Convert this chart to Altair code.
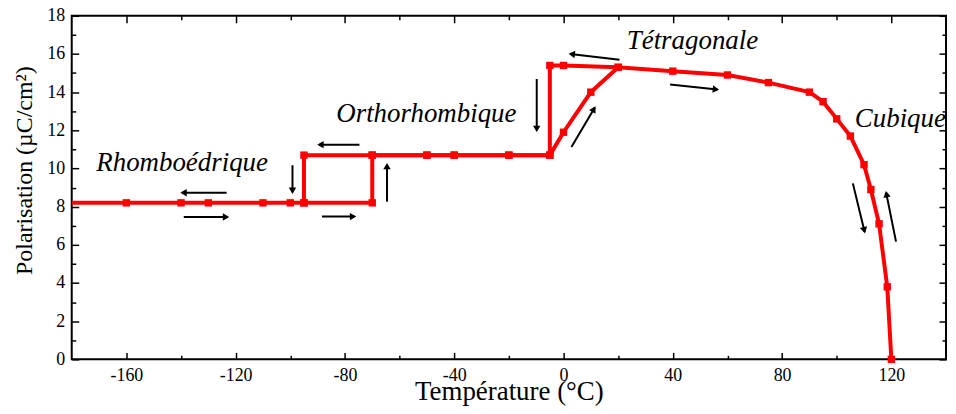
import math
import altair as alt
import pandas as pd

# ---------------- data ----------------
heat_T = [-180, -160, -140, -130, -110, -100, -95, -70, -70, -50, -40, -20, -5,
          0, 10, 20, 40, 60, 75, 90, 95, 100, 105, 110, 112.5, 115.5, 118.5, 120]
heat_P = [8.2, 8.2, 8.2, 8.2, 8.2, 8.2, 8.2, 8.2, 10.7, 10.7, 10.7, 10.7, 10.7,
          11.9, 14.0, 15.3, 15.1, 14.9, 14.5, 14.0, 13.5, 12.6, 11.7, 10.2, 8.9, 7.1, 3.8, 0.0]
cool_T = [20, 0, -5, -5, -20, -40, -50, -70, -95, -95]
cool_P = [15.3, 15.4, 15.4, 10.7, 10.7, 10.7, 10.7, 10.7, 10.7, 8.2]

label_text = ["Rhomboédrique", "Orthorhombique", "Tétragonale", "Cubique"]
label_T = [-139.6, -50.2, 47.2, 123.3]
label_P = [9.88, 12.43, 16.26, 12.17]

# arrows: tail (T1,P1) -> head (T2,P2)
arrow_T1 = [-123.3, -139.0, -99.2, -74.7, -88.4, -64.6, -9.8, 20.5, 2.9, 39.0, 105.9, 121.7]
arrow_P1 = [8.73, 7.46, 10.17, 11.25, 7.48, 8.26, 14.69, 15.70, 11.13, 14.40, 9.22, 6.17]
arrow_T2 = [-139.6, -123.0, -99.2, -89.5, -76.5, -64.6, -9.8, 2.5, 11.4, 56.3, 110.2, 118.1]
arrow_P2 = [8.73, 7.46, 8.76, 11.25, 7.48, 10.20, 12.0, 16.0, 13.18, 14.14, 6.69, 8.73]

x_major = [-160, -120, -80, -40, 0, 40, 80, 120]
x_minor = [-140, -100, -60, -20, 20, 60, 100]
y_major = [0, 2, 4, 6, 8, 10, 12, 14, 16, 18]
y_minor = [1, 3, 5, 7, 9, 11, 13, 15, 17]

# ---------------- layout ----------------
W, H = 878, 345
XD, YD = [-180, 140], [0, 18]
sx = W / (XD[1] - XD[0])
sy = H / (YD[1] - YD[0])

FONT = "Liberation Serif"
RED = "#ff0000"

line_df = pd.DataFrame({
    "T": heat_T + cool_T,
    "P": heat_P + cool_P,
    "s": ["heat"] * len(heat_T) + ["cool"] * len(cool_T),
    "o": list(range(len(heat_T))) + list(range(len(cool_T))),
})
pt_df = line_df[line_df["T"] > XD[0]]

angles, hx, hy = [], [], []
for t1, p1, t2, p2 in zip(arrow_T1, arrow_P1, arrow_T2, arrow_P2):
    dx = (t2 - t1) * sx
    dy = (p2 - p1) * sy  # up positive
    ang = math.degrees(math.atan2(dx, dy)) % 360
    angles.append(ang)
    L = math.hypot(dx, dy)
    back = 2.5
    hx.append(t2 - dx / L * back / sx)
    hy.append(p2 - dy / L * back / sy)
arrow_df = pd.DataFrame({"x1": arrow_T1, "y1": arrow_P1, "x2": arrow_T2, "y2": arrow_P2,
                         "hx": hx, "hy": hy, "ang": angles})
label_df = pd.DataFrame({"t": label_text, "T": label_T, "P": label_P})

xs = alt.Scale(domain=XD, nice=False, zero=False)
ys = alt.Scale(domain=YD, nice=False, zero=False)

x_main = alt.Axis(orient="bottom", values=x_major, ticks=False, tickSize=0, domain=False,
                  grid=False, labelPadding=7, labelFlush=False, labelExpr="'' + datum.value",
                  title="Température (°C)", titleY=40, titleBaseline="alphabetic",
                  titleFontSize=27)
y_main = alt.Axis(orient="left", values=y_major, ticks=False, tickSize=0, domain=False,
                  grid=False, labelPadding=7, labelFlush=False, labelExpr="'' + datum.value",
                  title="Polarisation (µC/cm²)", titleX=-40, titleY=155,
                  titleBaseline="alphabetic", titleFontSize=24)

line = alt.Chart(line_df).mark_line(color=RED, strokeWidth=4, clip=True).encode(
    x=alt.X("T:Q", scale=xs, axis=x_main),
    y=alt.Y("P:Q", scale=ys, axis=y_main),
    detail="s:N",
    order="o:Q",
)
points = alt.Chart(pt_df).mark_point(shape="square", filled=True, size=55, color=RED,
                                     opacity=1).encode(
    x=alt.X("T:Q", scale=xs, axis=None),
    y=alt.Y("P:Q", scale=ys, axis=None),
)
rules = alt.Chart(arrow_df).mark_rule(color="black", strokeWidth=2).encode(
    x=alt.X("x1:Q", scale=xs, axis=None),
    y=alt.Y("y1:Q", scale=ys, axis=None),
    x2="x2:Q",
    y2="y2:Q",
)
heads = alt.Chart(arrow_df).mark_point(shape="triangle", filled=True, size=55, color="black",
                                       opacity=1).encode(
    x=alt.X("hx:Q", scale=xs, axis=None),
    y=alt.Y("hy:Q", scale=ys, axis=None),
    angle=alt.Angle("ang:Q", scale=None),
)
labels = alt.Chart(label_df).mark_text(font=FONT, fontStyle="italic", fontSize=27,
                                       align="center", baseline="alphabetic",
                                       color="black").encode(
    x=alt.X("T:Q", scale=xs, axis=None),
    y=alt.Y("P:Q", scale=ys, axis=None),
    text="t:N",
)


def tick_layer(xo, yo, xv, yv, size):
    def ax(orient, vals):
        return alt.Axis(orient=orient, values=vals, labels=False, domain=False, grid=False,
                        ticks=True, tickSize=size, offset=-size, title=None,
                        tickColor="black", tickWidth=1.5)
    return alt.Chart(line_df).mark_point(opacity=0).encode(
        x=alt.X("T:Q", scale=xs, axis=ax(xo, xv)),
        y=alt.Y("P:Q", scale=ys, axis=ax(yo, yv)),
    )


chart = alt.layer(
    line, points, rules, heads, labels,
    tick_layer("bottom", "left", x_major, y_major, 7),
    tick_layer("bottom", "left", x_minor, y_minor, 4),
    tick_layer("top", "right", x_major, y_major, 7),
    tick_layer("top", "right", x_minor, y_minor, 4),
).resolve_axis(x="independent", y="independent").properties(
    width=W, height=H,
    autosize=alt.AutoSizeParams(type="none"),
    padding={"left": 64, "top": 7, "right": 2, "bottom": 46},
).configure_view(stroke="black", strokeWidth=2).configure_axis(
    labelFont=FONT, labelFontSize=18, labelColor="black",
    titleFont=FONT, titleFontSize=26, titleFontWeight="normal", titleColor="black",
)

chart.save("out.html", embed_options={"renderer": "svg", "actions": False})
